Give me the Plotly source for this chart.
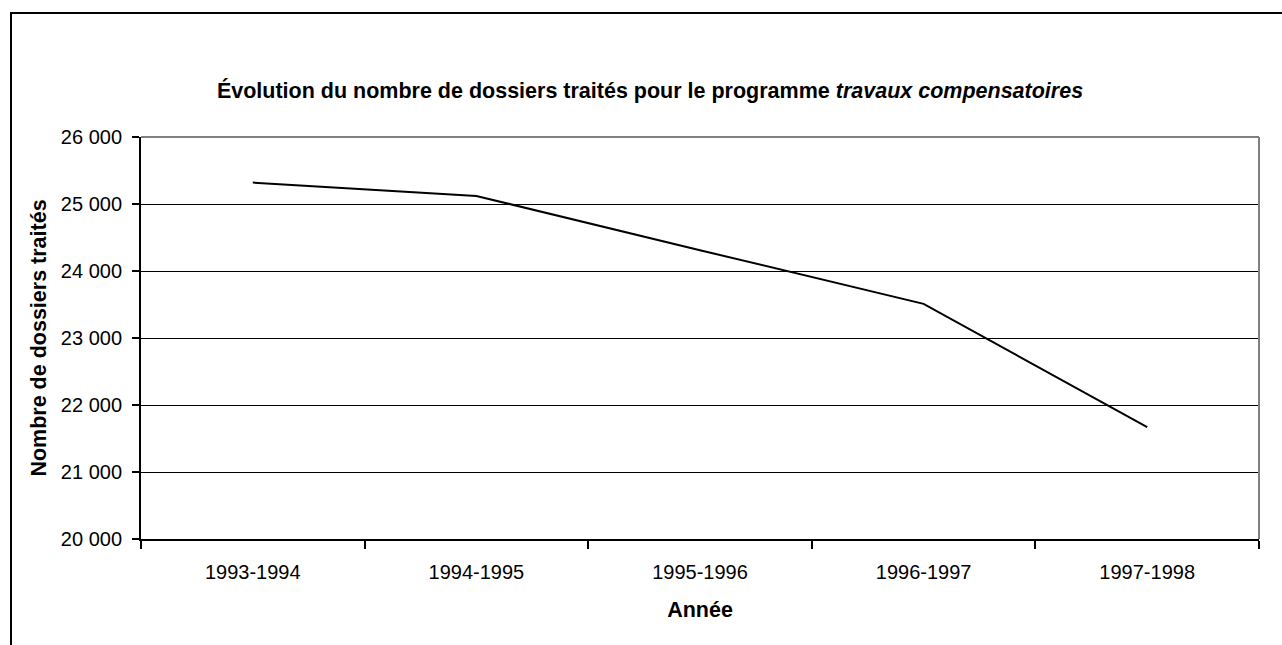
import plotly.graph_objects as go

# Nombre de dossiers traités par année, programme travaux compensatoires
annees = ["1993-1994", "1994-1995", "1995-1996", "1996-1997", "1997-1998"]
dossiers = [25320, 25120, 24310, 23510, 21670]

y_ticks = [20000, 21000, 22000, 23000, 24000, 25000, 26000]
y_tick_labels = ["20 000", "21 000", "22 000", "23 000", "24 000", "25 000", "26 000"]

W, H = 1282, 645
L, R, T, B = 141, 1259, 137, 539  # plot area in pixels

FONT = "Liberation Sans, Arial, sans-serif"

fig = go.Figure()
fig.add_trace(go.Scatter(
    x=annees, y=dossiers, mode="lines",
    line=dict(color="black", width=2),
    showlegend=False, hoverinfo="x+y",
))

def px_x(p):
    return (p - L) / (R - L)

def px_y(p):
    return (B - p) / (B - T)

shapes = [
    # outer chart frame (extends past the page edge on right and bottom)
    dict(type="rect", xref="paper", yref="paper",
         x0=px_x(11), x1=px_x(1300), y0=px_y(660), y1=px_y(13),
         line=dict(color="black", width=2), fillcolor="rgba(0,0,0,0)", layer="below"),
    # grey plot-area border (top and right)
    dict(type="line", xref="paper", yref="paper", x0=0, x1=1, y0=1, y1=1,
         line=dict(color="#808080", width=2)),
    dict(type="line", xref="paper", yref="paper", x0=1, x1=1, y0=0, y1=1,
         line=dict(color="#808080", width=2)),
]

fig.update_layout(
    width=W, height=H,
    margin=dict(l=L, r=W - R, t=T, b=H - B),
    paper_bgcolor="white", plot_bgcolor="white",
    font=dict(family=FONT, size=20, color="black"),
    shapes=shapes,
    title=dict(
        text="<b>Évolution du nombre de dossiers traités pour le programme <i>travaux compensatoires</i></b>",
        font=dict(family=FONT, size=21.5, color="black"),
        x=650 / W, xref="container", xanchor="center",
        y=1 - 90 / H, yref="container", yanchor="middle",
    ),
    xaxis=dict(
        type="category", range=[-0.5, 4.5],
        tickson="boundaries", ticks="outside", ticklen=8, tickwidth=2, tickcolor="black",
        showline=True, linecolor="black", linewidth=2,
        showgrid=False, zeroline=False,
        tickfont=dict(family=FONT, size=20),
        ticklabelstandoff=14,
        title=dict(text="<b>Année</b>", font=dict(family=FONT, size=21.5), standoff=20),
    ),
    yaxis=dict(
        range=[20000, 26000],
        tickvals=y_ticks, ticktext=y_tick_labels,
        ticks="outside", ticklen=7, tickwidth=2, tickcolor="black",
        showline=True, linecolor="black", linewidth=2,
        showgrid=True, gridcolor="black", gridwidth=1, zeroline=False,
        tickfont=dict(family=FONT, size=20),
        ticklabelstandoff=6,
        title=dict(text="<b>Nombre de dossiers traités</b>", font=dict(family=FONT, size=21.5), standoff=8),
    ),
)

fig.write_html("out.html")
